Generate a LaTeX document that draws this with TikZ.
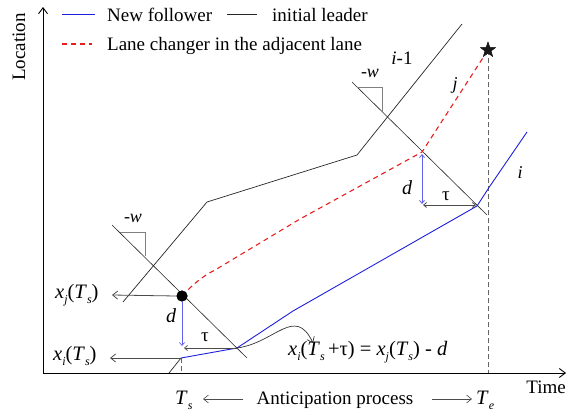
\documentclass[tikz,border=0pt]{standalone}
\usepackage{fontspec}
\setmainfont{Liberation Serif}
\usetikzlibrary{arrows.meta,shapes.geometric}
\newcommand\lsub[1]{\raisebox{-0.6ex}{\fontsize{12}{12}\selectfont\itshape #1}}
\definecolor{fblue}{RGB}{30,30,220}
\definecolor{lblue}{RGB}{95,95,240}
\definecolor{cred}{RGB}{232,30,30}
\begin{document}
\begin{tikzpicture}[x=1pt,y=-1pt,
  txt/.style={font=\fontsize{19}{22}\selectfont, inner sep=0pt},
  big/.style={font=\fontsize{20.5}{24}\selectfont, inner sep=0pt},
  lab/.style={font=\fontsize{18}{20}\selectfont\itshape, inner sep=0pt},
  axisboth/.style={line width=0.9pt, {Straight Barb[length=6pt,width=9pt]}-{Straight Barb[length=6pt,width=9pt]}},
  leader/.style={line width=0.7pt, black!85},
  follower/.style={line width=0.9pt, fblue},
  changer/.style={line width=1.1pt, cred, dash pattern=on 5pt off 4pt},
  guide/.style={line width=0.8pt, black!60, dash pattern=on 5pt off 3pt},
  wave/.style={line width=0.6pt, black!85},
  tri/.style={line width=0.6pt, black!50},
  pointer/.style={line width=0.8pt, black!70, -{Straight Barb[length=5pt,width=8pt]}},
  dbl/.style={line width=0.8pt, {Straight Barb[length=3pt,width=5pt]}-{Straight Barb[length=3pt,width=5pt]}},
  sgl/.style={line width=0.7pt, -{Straight Barb[length=3pt,width=5pt]}},
]
\useasboundingbox (0,0) rectangle (567,415);

% axes
\coordinate (ytop) at (43,7);
\coordinate (O) at (43,373);
\coordinate (xend) at (566,373);
\draw[axisboth] (ytop) -- (O) -- (xend);
\node[txt, rotate=90] (loc) at (19,47) {Location};
\node[txt, anchor=base east] (time) at (566,393) {Time};

% legend
\coordinate (lb1) at (62,14); \coordinate (lb2) at (95,14);
\draw[follower] (lb1) -- (lb2);
\node[txt, anchor=base west] (lbt) at (107,21) {New follower};
\coordinate (lk1) at (227,14); \coordinate (lk2) at (257,14);
\draw[leader] (lk1) -- (lk2);
\node[txt, anchor=base west] (lkt) at (272,21) {initial leader};
\coordinate (lr1) at (62,44); \coordinate (lr2) at (92,44);
\draw[changer] (lr1) -- (lr2);
\node[txt, anchor=base west] (lrt) at (107,50) {Lane changer in the adjacent lane};

% initial leader i-1
\coordinate (l1) at (123,302);
\coordinate (l2) at (207,202);
\coordinate (l3) at (357,155);
\coordinate (l4) at (462,24);
\draw[leader] (l1) -- (l2) -- (l3) -- (l4);

% wave lines
\coordinate (wa1) at (112,225); \coordinate (wa2) at (247,358);
\draw[wave] (wa1) -- (wa2);
\coordinate (ta1) at (120,232); \coordinate (ta2) at (145,232); \coordinate (ta3) at (145,256);
\draw[tri] (ta1) -- (ta2) -- (ta3);
\coordinate (wb1) at (352,82); \coordinate (wb2) at (487,215);
\draw[wave] (wb1) -- (wb2);
\coordinate (tb1) at (357,87); \coordinate (tb2) at (382,87); \coordinate (tb3) at (382,112);
\draw[tri] (tb1) -- (tb2) -- (tb3);

% vertical guides
\coordinate (ts) at (181,358);
\coordinate (tsb) at (181,373);
\coordinate (teb) at (488,373);
\node[star, star points=5, star point ratio=2.5, fill=black!90, minimum size=17pt, inner sep=0pt] (star) at (488,50) {};
\draw[guide] (ts) -- (tsb);
\draw[guide] (star.center) -- (teb);

% follower i
\coordinate (pre) at (169,373);
\draw[leader] (pre) -- (ts);
\coordinate (f2) at (237,348);
\coordinate (f3) at (293,311);
\coordinate (f4) at (477,206);
\coordinate (f5) at (490,186);
\coordinate (f6) at (527,132);
\draw[follower] (ts) -- (f2) -- (f3) -- (f4) -- (f5) -- (f6);

% lane changer j
\node[circle, fill=black, minimum size=11pt, inner sep=0pt] (dot) at (182,296) {};
\coordinate (c1) at (215,270);
\coordinate (c2) at (300,219);
\coordinate (c3) at (422,152);
\draw[changer] (dot.center) .. controls (195,282) and (205,275) .. (c1) -- (c2) -- (c3) -- (star.center);
\node[circle, fill=black, minimum size=11pt, inner sep=0pt] at (dot) {};
\node[star, star points=5, star point ratio=2.5, fill=black!90, minimum size=17pt, inner sep=0pt] at (star) {};

% d and tau markers
\coordinate (dl) at (182,346);
\draw[sgl, lblue] (dot.south) -- (dl);
\coordinate (tl) at (184,348);
\draw[sgl, black!70] (f2) -- (tl);
\coordinate (du1) at (422,154); \coordinate (du2) at (422,204);
\draw[dbl, lblue] (du1) -- (du2);
\coordinate (tu1) at (423,205); \coordinate (tu2) at (476,205);
\draw[dbl, black!70] (tu1) -- (tu2);

% labels
\node[lab] (lw1) at (133,218) {-w};
\node[lab] (lw2) at (370,73) {-w};
\node[txt] (li1) at (402,58) {\textit{i}-1};
\node[lab] (lj) at (455,85) {j};
\node[lab] (li) at (520,173) {i};
\node[big, font=\fontsize{20}{22}\selectfont\itshape] (ld1) at (171,316) {d};
\node[txt] (lt1) at (205,337) {τ};
\node[big, font=\fontsize{20}{22}\selectfont\itshape] (ld2) at (407,188) {d};
\node[txt] (lt2) at (446,196) {τ};

% left pointers
\coordinate (xj) at (112,295);
\draw[pointer] (dot.west) -- (xj);
\node[big, anchor=base west] (lxj) at (55,298) {\textit{x}\lsub{j}(\textit{T}\lsub{s})};
\coordinate (xi) at (110,358);
\draw[pointer] (ts) -- (xi);
\node[big, anchor=base west] (lxi) at (53,360) {\textit{x}\lsub{i}(\textit{T}\lsub{s})};

% formula
\node[big, anchor=base west] (form) at (288,355) {\textit{x}\lsub{i}(\textit{T}\lsub{s}\,+τ) = \textit{x}\lsub{j}(\textit{T}\lsub{s}) - \textit{d}};
\coordinate (fa) at (313,343);
\draw[pointer, line width=0.7pt, black!80] (f2) .. controls (275,343) and (295,305) .. (fa);

% bottom
\node[big, anchor=base west] (lts) at (175,404) {\textit{T}\lsub{s}};
\node[txt, anchor=base] (ant) at (335,404) {Anticipation process};
\coordinate (al1) at (243,399); \coordinate (al2) at (203,399);
\draw[pointer, line width=0.6pt] (al1) -- (al2);
\coordinate (ar1) at (432,399); \coordinate (ar2) at (472,399);
\draw[pointer, line width=0.6pt] (ar1) -- (ar2);
\node[big, anchor=base west] (lte) at (476,404) {\textit{T}\lsub{e}};
\end{tikzpicture}
\end{document}
